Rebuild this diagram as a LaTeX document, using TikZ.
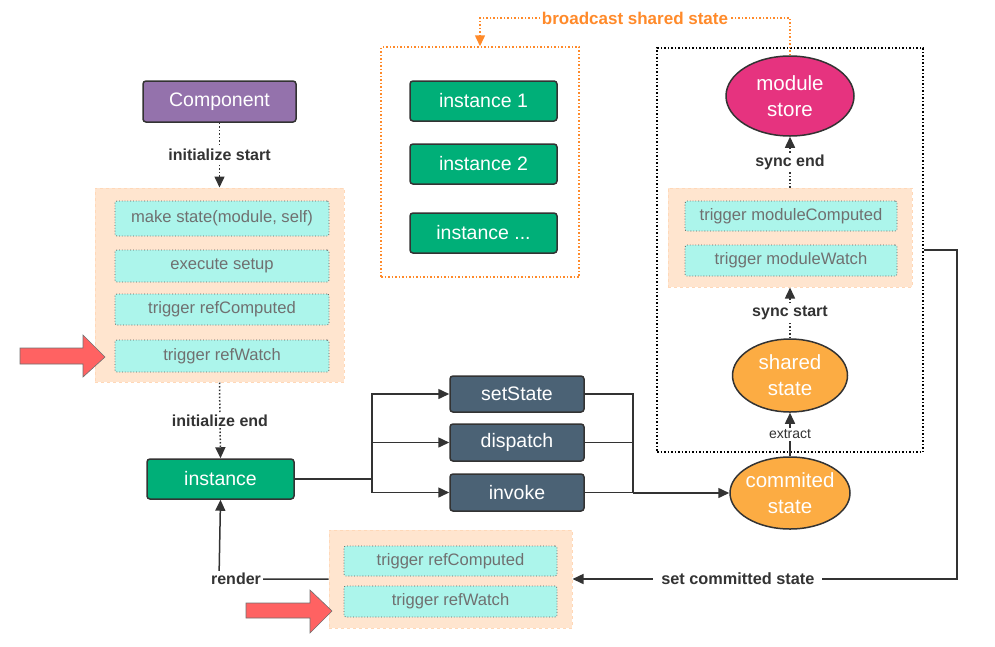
\documentclass[tikz,border=0pt]{standalone}
\usepackage{fontspec}
\setmainfont{Liberation Sans}
\usetikzlibrary{arrows.meta,shapes.geometric}
\definecolor{cpurple}{HTML}{9472AC}
\definecolor{cgreen}{HTML}{00AF78}
\definecolor{cslate}{HTML}{4B6275}
\definecolor{cmag}{HTML}{E6337F}
\definecolor{corange}{HTML}{FCAC43}
\definecolor{cpeach}{HTML}{FFE5CF}
\definecolor{cpeachb}{HTML}{FFD8B8}
\definecolor{ccyan}{HTML}{ACF5EB}
\definecolor{cred}{HTML}{FF6262}
\definecolor{cdot}{HTML}{FF8A2A}
\definecolor{cdark}{HTML}{333333}
\definecolor{cgraytxt}{HTML}{707070}
\tikzset{
  mainbox/.style={draw=cdark, line width=1.5pt, rounded corners=3pt, text=white,
    font=\fontsize{19.5}{23}\selectfont, inner sep=0pt},
  cyanbox/.style={draw=cdark!80, dotted, line width=0.8pt, fill=ccyan, rounded corners=2pt,
    text=cgraytxt, font=\fontsize{16.6}{19}\selectfont, inner sep=0pt},
  peachbox/.style={draw=cpeachb, dashed, line width=1pt, fill=cpeach, inner sep=0pt},
  ellnode/.style={ellipse, draw=cdark, line width=1.5pt, text=white, align=center,
    font=\fontsize{20.5}{26}\selectfont, inner sep=-8pt},
  lbl/.style={fill=white, text=cdark, font=\bfseries\fontsize{16}{19}\selectfont, inner sep=2pt},
  conn/.style={draw=cdark, line width=1.5pt, -{Triangle[length=11pt,width=10pt]}},
  plain/.style={draw=cdark, line width=1.5pt},
  dconn/.style={conn, dotted},
  redarrow/.style={fill=cred, draw=cdark!70, line width=0.6pt},
}
\begin{document}
\begin{tikzpicture}[x=1pt,y=-1pt]
\useasboundingbox (0,0) rectangle (995,646);
% containers
\node[peachbox, minimum width=249pt, minimum height=194pt] (peachL) at (219.5,285) {};
\node[peachbox, minimum width=244pt, minimum height=99pt] (peachR) at (790,237.5) {};
\node[peachbox, minimum width=243pt, minimum height=98pt] (peachB) at (450.5,579) {};
\node[draw=black, dotted, line width=1.5pt, minimum width=266pt, minimum height=404pt, inner sep=0pt] (rbox) at (790,250) {};
\node[draw=cdot, dotted, line width=1.5pt, minimum width=198pt, minimum height=230pt, inner sep=0pt] (obox) at (480,162) {};
% main boxes
\node[mainbox, fill=cpurple, minimum width=153pt, minimum height=41pt] (comp) at (219.5,101.5) {Component};
\node[cyanbox, minimum width=214pt, minimum height=35pt] (ms1) at (222,218.5) {make state(module, self)};
\node[cyanbox, minimum width=214pt, minimum height=32pt] (es) at (222,266) {execute setup};
\node[cyanbox, minimum width=214pt, minimum height=31pt] (rc1) at (222,309.5) {trigger refComputed};
\node[cyanbox, minimum width=214pt, minimum height=32pt] (rw1) at (222,356) {trigger refWatch};
\node[mainbox, fill=cgreen, minimum width=147pt, minimum height=40pt] (inst) at (220.5,479) {instance};
\node[mainbox, fill=cslate, minimum width=134pt, minimum height=36pt] (setS) at (517,394) {setState};
\node[mainbox, fill=cslate, minimum width=134pt, minimum height=37pt] (disp) at (517,442.5) {dispatch};
\node[mainbox, fill=cslate, minimum width=134pt, minimum height=37pt] (invk) at (517,492.5) {invoke};
\node[mainbox, fill=cgreen, minimum width=147pt, minimum height=40pt] (i1) at (483.5,101) {instance 1};
\node[mainbox, fill=cgreen, minimum width=147pt, minimum height=40pt] (i2) at (483.5,164) {instance 2};
\node[mainbox, fill=cgreen, minimum width=147pt, minimum height=40pt] (i3) at (483.5,233) {instance ...};
\node[ellnode, fill=cmag, minimum width=128pt, minimum height=80pt] (mst) at (790,96) {module\\store};
\node[cyanbox, minimum width=212pt, minimum height=30pt] (mc) at (791,216) {trigger moduleComputed};
\node[cyanbox, minimum width=212pt, minimum height=31pt] (mw) at (791,260.5) {trigger moduleWatch};
\node[ellnode, fill=corange, minimum width=115pt, minimum height=73pt] (sh) at (790,375.5) {shared\\state};
\node[ellnode, fill=corange, minimum width=120pt, minimum height=72pt] (com) at (790,493) {commited\\state};
\node[cyanbox, minimum width=213pt, minimum height=30pt] (rc2) at (450.5,561) {trigger refComputed};
\node[cyanbox, minimum width=213pt, minimum height=31pt] (rw2) at (450.5,601.5) {trigger refWatch};
% red arrows
\draw[redarrow] (20,348) -- (83,348) -- (83,335) -- (105,357) -- (83,377) -- (83,364) -- (20,364) -- cycle;
\draw[redarrow] (246,603) -- (310,603) -- (310,590) -- (332,611) -- (310,633) -- (310,618) -- (246,618) -- cycle;
% connectors
\draw[dconn] (comp.south) -- node[lbl]{initialize start} (comp.south |- peachL.north);
\draw[dconn] (peachL.south) -- node[lbl]{initialize end} (inst.north);
\coordinate (br) at (372,479);
\draw[plain] (inst.east) -- (br);
\draw[conn] (br) |- (setS.west);
\draw[conn] (br) |- (disp.west);
\draw[conn] (br) |- (invk.west);
\coordinate (mg) at (633,493);
\draw[plain] (setS.east) -| (mg);
\draw[plain] (disp.east) -| (mg);
\draw[plain] (invk.east) -- (invk.east -| mg);
\draw[conn] (mg) -- (com.west);
\draw[conn] (com.north) -- node[lbl, font=\fontsize{14}{16}\selectfont]{extract} (sh.south);
\draw[dconn] (sh.north) -- node[lbl]{sync start} (peachR.south);
\draw[dconn] (peachR.north) -- node[lbl]{sync end} (mst.south);
\coordinate (bc1) at (790,18);
\coordinate (bc2) at (480,18);
\draw[dotted, draw=cdot, line width=1.5pt, -{Triangle[length=11pt,width=10pt]}] (mst.north) -- (bc1) -- node[lbl, text=cdot, inner xsep=1pt, font=\bfseries\fontsize{17}{20}\selectfont]{broadcast shared state} (bc2) -- (obox.north);
\coordinate (sc1) at (957,250);
\coordinate (sc2) at (957,579);
\draw[conn] (rbox.east) -- (sc1) -- (sc2) -- node[lbl, pos=0.57, inner xsep=8pt, font=\bfseries\fontsize{16.3}{19}\selectfont]{set committed state} (peachB.east);
\coordinate (rnd) at (219,579);
\draw[conn] (peachB.west) -- (rnd) -- (inst.south);
\node[lbl, xshift=17pt] (rlbl) at (rnd) {render};
\end{tikzpicture}
\end{document}
